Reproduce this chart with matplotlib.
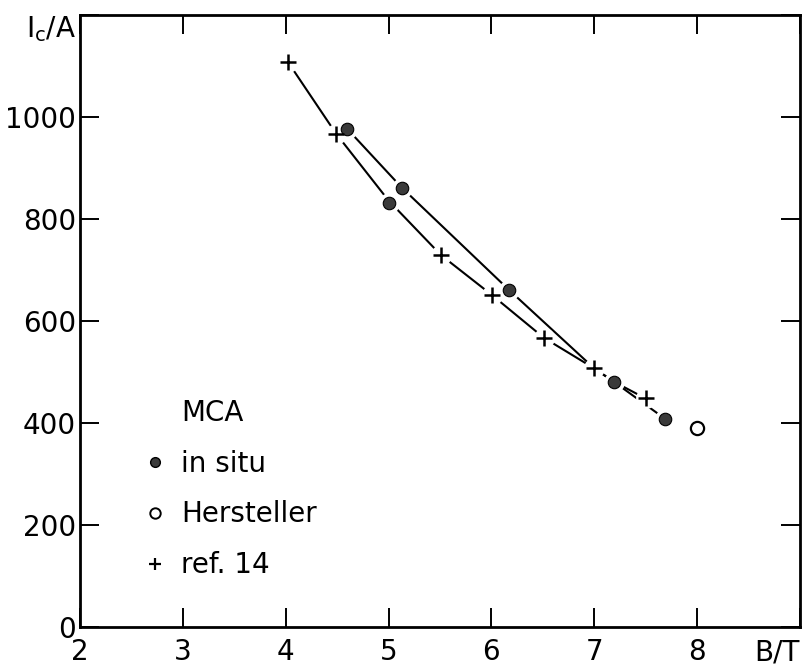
import matplotlib
matplotlib.use('Agg')
import matplotlib.pyplot as plt
import matplotlib.transforms as mtransforms
from matplotlib.lines import Line2D

plt.rcParams['font.family'] = ['DejaVu Sans']
plt.rcParams['mathtext.fontset'] = 'dejavusans'

# MCA in situ measurements (filled dots)
insitu_B = [4.6, 5.0, 5.13, 6.17, 7.19, 7.69]
insitu_I = [976, 831, 861, 661, 481, 408]
# manufacturer value (open circle)
herst_B = [8.0]
herst_I = [390]
# ref. 14 (crosses)
ref_B = [4.02, 4.49, 5.51, 6.01, 6.51, 7.0, 7.5]
ref_I = [1108, 967, 729, 650, 567, 507, 448]

# hand drawn curves, vertices
curve_insitu_B = [4.6, 5.13, 6.17, 7.0, 7.19, 7.69]
curve_insitu_I = [976, 861, 661, 507, 481, 408]
curve_ref_B = [4.02, 4.49, 5.0, 5.51, 6.01, 6.51, 7.0, 7.19, 7.5]
curve_ref_I = [1108, 967, 836, 729, 650, 567, 507, 481, 448]

xticks = [2, 3, 4, 5, 6, 7, 8, 9]
xlabels = ['2', '3', '4', '5', '6', '7', '8', 'B/T']
yticks = [0, 200, 400, 600, 800, 1000, 1200]
ylabels = ['0', '200', '400', '600', '800', '1000', r'I$_\mathregular{c}$/A']

fig = plt.figure(figsize=(8.08, 6.70), dpi=100)
ax = fig.add_axes([0.099, 0.064, 0.891, 0.914])

ax.plot(curve_ref_B, curve_ref_I, color='black', lw=1.5, zorder=2)
ax.plot(curve_insitu_B, curve_insitu_I, color='black', lw=1.5, zorder=2)

# white halos leave the small gaps in the lines round each mark
ax.plot(insitu_B + ref_B, insitu_I + ref_I, 'o', color='white', ms=15, mew=0, zorder=3)

ax.plot(insitu_B, insitu_I, 'o', color='#3a3a3a', mec='black', mew=0.8, ms=9, zorder=4)
ax.plot(herst_B, herst_I, 'o', mfc='white', mec='black', mew=1.6, ms=9.5, zorder=4)
ax.plot(ref_B, ref_I, '+', color='black', mew=1.8, ms=11, zorder=4)

ax.set_xlim(2, 9)
ax.set_ylim(0, 1200)
ax.set_xticks(xticks)
ax.set_xticklabels(xlabels)
ax.set_yticks(yticks)
ax.set_yticklabels(ylabels)
ax.xaxis.get_majorticklabels()[-1].set_horizontalalignment('right')
ax.tick_params(direction='in', length=14, width=1.4, top=True, right=True,
               labelsize=20, pad=8)
ax.tick_params(axis='y', pad=3)
top_lab = ax.yaxis.get_majorticklabels()[-1]
top_lab.set_transform(top_lab.get_transform() +
                      mtransforms.ScaledTranslation(0, -8 / 72, fig.dpi_scale_trans))
for s in ax.spines.values():
    s.set_linewidth(2)

handles = [
    Line2D([], [], linestyle='none', marker=None),
    Line2D([], [], linestyle='none', marker='o', color='#3a3a3a', mec='black', ms=7),
    Line2D([], [], linestyle='none', marker='o', mfc='white', mec='black', mew=1.4, ms=7.5),
    Line2D([], [], linestyle='none', marker='+', color='black', mew=1.6, ms=9),
]
labels = ['MCA', 'in situ', 'Hersteller', 'ref. 14']
ax.legend(handles, labels, loc='lower left', bbox_to_anchor=(0.075, 0.06),
          frameon=False, fontsize=20, handlelength=0.7, handletextpad=0.6,
          labelspacing=0.82, borderaxespad=0)

fig.savefig('out.png', dpi=100)
